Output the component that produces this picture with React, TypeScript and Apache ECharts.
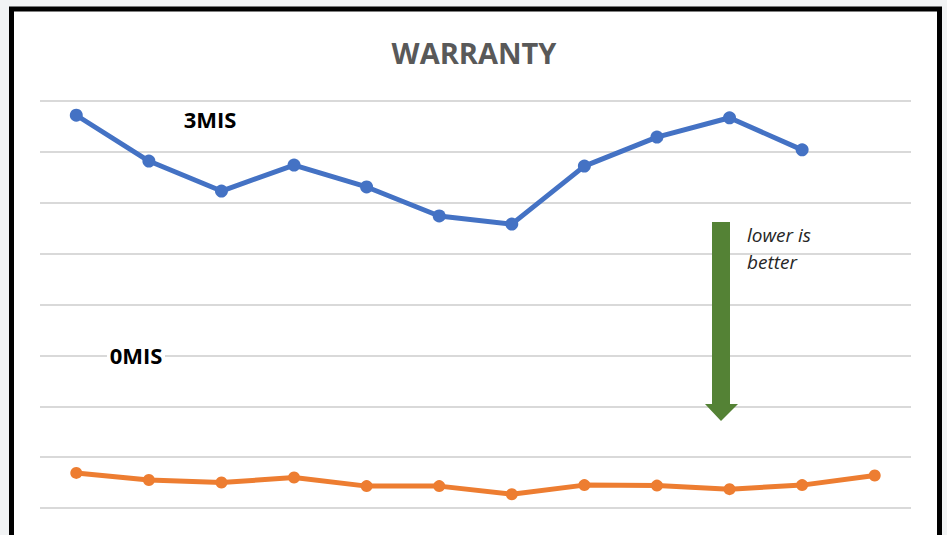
import React, { useEffect, useRef } from "react";
import * as echarts from "echarts";

const categories = ["1", "2", "3", "4", "5", "6", "7", "8", "9", "10", "11", "12"];
const mis3Values: (number | null)[] = [7.72, 6.82, 6.23, 6.74, 6.31, 5.74, 5.58, 6.72, 7.29, 7.67, 7.04, null];
const mis0Values: number[] = [0.69, 0.55, 0.5, 0.6, 0.43, 0.43, 0.27, 0.45, 0.44, 0.37, 0.45, 0.64];
const titleText = "WARRANTY";
const label3 = "3MIS";
const label0 = "0MIS";
const noteText = "lower is\nbetter";

export default function App() {
  const ref = useRef<HTMLDivElement>(null);
  useEffect(() => {
    document.body.style.margin = "0";
    const chart = echarts.init(ref.current!, null, { renderer: "svg" });
    chart.setOption({
      animation: false,
      backgroundColor: "#f1f3f4",
      grid: { left: 40, right: 36, top: 101, bottom: 27 },
      xAxis: {
        type: "category",
        data: categories,
        boundaryGap: true,
        axisLine: { show: false },
        axisTick: { show: false },
        axisLabel: { show: false },
      },
      yAxis: {
        type: "value",
        min: 0,
        max: 8,
        interval: 1,
        axisLabel: { show: false },
        axisLine: { show: false },
        axisTick: { show: false },
        splitLine: { lineStyle: { color: "#d9d9d9", width: 2 } },
      },
      graphic: [
        {
          type: "rect",
          z: -10,
          silent: true,
          shape: { x: 11.5, y: 9, width: 928, height: 545 },
          style: { fill: "#ffffff", stroke: "#000000", lineWidth: 5 },
        },
        {
          type: "text",
          x: 474,
          y: 52,
          z: 100,
          style: {
            text: titleText,
            fill: "#595959",
            font: "bold 29px 'Open Sans'",
            align: "center",
            verticalAlign: "middle",
          },
        },
        {
          type: "rect",
          z: 99,
          silent: true,
          shape: { x: 107, y: 345, width: 58, height: 20 },
          style: { fill: "#ffffff" },
        },
        {
          type: "text",
          x: 210,
          y: 119,
          z: 100,
          style: {
            text: label3,
            fill: "#000000",
            font: "bold 22px 'Open Sans'",
            align: "center",
            verticalAlign: "middle",
          },
        },
        {
          type: "text",
          x: 136,
          y: 355,
          z: 100,
          style: {
            text: label0,
            fill: "#000000",
            font: "bold 22px 'Open Sans'",
            align: "center",
            verticalAlign: "middle",
          },
        },
        {
          type: "text",
          x: 747,
          y: 221,
          z: 100,
          style: {
            text: noteText,
            fill: "#262626",
            font: "italic 19px 'Open Sans'",
            lineHeight: 27,
            align: "left",
            verticalAlign: "top",
          },
        },
        {
          type: "polygon",
          z: 100,
          shape: {
            points: [
              [712, 222],
              [730, 222],
              [730, 404],
              [738, 404],
              [721, 421],
              [705, 404],
              [712, 404],
            ],
          },
          style: { fill: "#548235" },
        },
      ],
      series: [
        {
          type: "line",
          data: mis3Values,
          symbol: "circle",
          symbolSize: 13,
          lineStyle: { color: "#4472c4", width: 5 },
          itemStyle: { color: "#4472c4" },
          z: 3,
        },
        {
          type: "line",
          data: mis0Values,
          symbol: "circle",
          symbolSize: 12,
          lineStyle: { color: "#ed7d31", width: 5 },
          itemStyle: { color: "#ed7d31" },
          z: 3,
        },
      ],
    });
    return () => chart.dispose();
  }, []);
  return <div ref={ref} style={{ position: "absolute", left: 0, top: 0, width: 947, height: 535 }} />;
}
